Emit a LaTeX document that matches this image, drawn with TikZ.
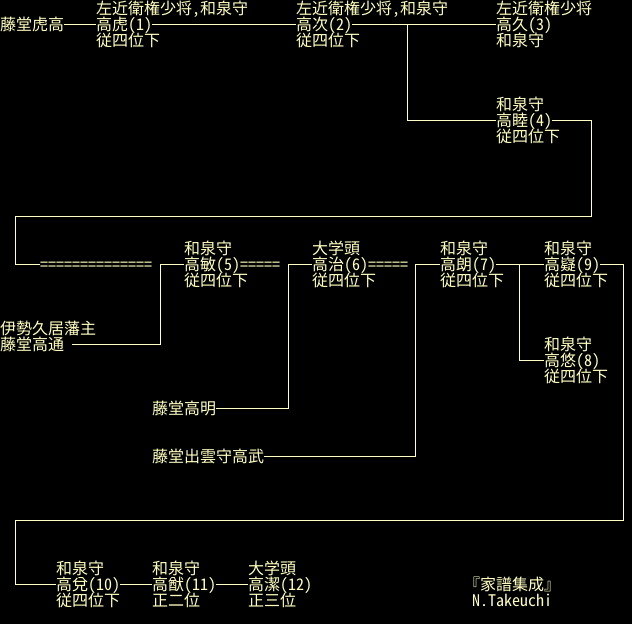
\documentclass[tikz,border=0pt]{standalone}
\usepackage{fontspec}
\setmainfont{Noto Sans CJK JP}[CharacterWidth=Half]
\definecolor{ink}{HTML}{FFFFC4}
\begin{document}
\begin{tikzpicture}[x=1pt,y=-1pt,
  txt/.style={inner sep=0pt, anchor=west, text=ink, font=\fontsize{16}{16}\selectfont, text height=14pt, text depth=2pt},
  link/.style={draw=ink, line width=1pt}]
\useasboundingbox (0,0) rectangle (632,624);
\fill[black] (0,0) rectangle (632,624);
% top generation
\node[txt] (tora) at (0,24) {藤堂虎高};
\node[txt] (t1) at (96,8) {左近衛権少将,和泉守};
\node[txt] (b1) at (96,24) {高虎(1)};
\node[txt] (r1) at (96,40) {従四位下};
\node[txt] (t2) at (296,8) {左近衛権少将,和泉守};
\node[txt] (b2) at (296,24) {高次(2)};
\node[txt] (r2) at (296,40) {従四位下};
\node[txt] (t3) at (496,8) {左近衛権少将};
\node[txt] (b3) at (496,24) {高久(3)};
\node[txt] (r3) at (496,40) {和泉守};
\node[txt] (t4) at (496,104) {和泉守};
\node[txt] (b4) at (496,120) {高睦(4)};
\node[txt] (r4) at (496,136) {従四位下};
% second row
\node[txt] (eq) at (40,264) {==============};
\node[txt] (t5) at (184,248) {和泉守};
\node[txt] (b5) at (184,264) {高敏(5)=====};
\node[txt] (r5) at (184,280) {従四位下};
\node[txt] (t6) at (312,248) {大学頭};
\node[txt] (b6) at (312,264) {高治(6)=====};
\node[txt] (r6) at (312,280) {従四位下};
\node[txt] (t7) at (440,248) {和泉守};
\node[txt] (b7) at (440,264) {高朗(7)};
\node[txt] (r7) at (440,280) {従四位下};
\node[txt] (t9) at (544,248) {和泉守};
\node[txt] (b9) at (544,264) {高嶷(9)};
\node[txt] (r9) at (544,280) {従四位下};
\node[txt] (t8) at (544,344) {和泉守};
\node[txt] (b8) at (544,360) {高悠(8)};
\node[txt] (r8) at (544,376) {従四位下};
\node[txt] (ise) at (0,328) {伊勢久居藩主};
\node[txt] (tm) at (0,344) {藤堂高通};
\node[txt] (ta) at (152,408) {藤堂高明};
\node[txt] (tt) at (152,456) {藤堂出雲守高武};
% bottom row
\node[txt] (t10) at (56,568) {和泉守};
\node[txt] (b10) at (56,584) {高兌(10)};
\node[txt] (r10) at (56,600) {従四位下};
\node[txt] (t11) at (152,568) {和泉守};
\node[txt] (b11) at (152,584) {高猷(11)};
\node[txt] (r11) at (152,600) {正二位};
\node[txt] (t12) at (248,568) {大学頭};
\node[txt] (b12) at (248,584) {高潔(12)};
\node[txt] (r12) at (248,600) {正三位};
\node[txt] (src) at (464,584) {『家譜集成』};
\node[txt] (auth) at (472,600) {N.Takeuchi};
% junctions
\coordinate (j1) at (407,24);
\coordinate (c1) at (591,216);
\coordinate (c2) at (15,216);
\coordinate (j2) at (160,264);
\coordinate (j3) at (288,264);
\coordinate (j4) at (415,264);
\coordinate (j5) at (519,264);
\coordinate (c3) at (623,520);
\coordinate (c4) at (15,520);
% connectors
\draw[link] (tora.east) -- (b1.west);
\draw[link] (b1.east) -- (b2.west);
\draw[link] (b2.east) -- (b3.west);
\draw[link] (j1) |- (b4.west);
\draw[link] (b4.east) -| (c1) -- (c2) |- (eq.west);
\draw[link] ([xshift=8pt]tm.east) -| (j2) -- (b5.west);
\draw[link] (ta.east) -| (j3) -- (b6.west);
\draw[link] (tt.east) -| (j4) -- (b7.west);
\draw[link] (b7.east) -- (b9.west);
\draw[link] (j5) |- (b8.west);
\draw[link] (b9.east) -| (c3) -- (c4) |- (b10.west);
\draw[link] (b10.east) -- (b11.west);
\draw[link] (b11.east) -- (b12.west);
\end{tikzpicture}
\end{document}
